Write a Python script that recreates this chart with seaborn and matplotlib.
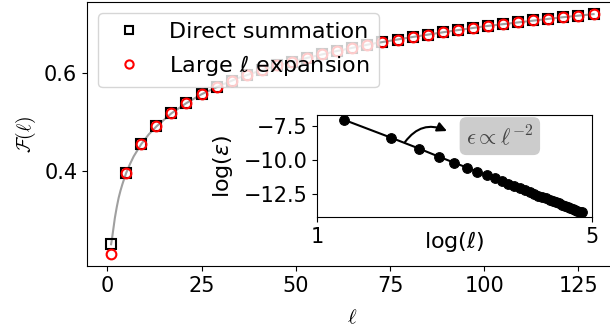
import matplotlib
matplotlib.use('Agg')
from matplotlib import pyplot as plt
import seaborn as sns
import numpy as np

# main panel: F(l) at l = 1, 5, ..., 129
ell = [1, 5, 9, 13, 17, 21, 25, 29, 33, 37, 41, 45, 49, 53, 57, 61, 65,
       69, 73, 77, 81, 85, 89, 93, 97, 101, 105, 109, 113, 117, 121, 125, 129]
F_direct = [0.250, 0.396, 0.455, 0.491, 0.518, 0.539, 0.557, 0.572, 0.585,
            0.596, 0.606, 0.616, 0.624, 0.632, 0.639, 0.646, 0.652, 0.658,
            0.664, 0.669, 0.674, 0.679, 0.684, 0.688, 0.692, 0.697, 0.700,
            0.704, 0.708, 0.711, 0.715, 0.718, 0.721]
F_expansion = [0.230, 0.395, 0.455, 0.491, 0.518, 0.539, 0.557, 0.572, 0.585,
               0.596, 0.606, 0.616, 0.624, 0.632, 0.639, 0.646, 0.652, 0.658,
               0.664, 0.669, 0.674, 0.679, 0.684, 0.688, 0.692, 0.697, 0.700,
               0.704, 0.708, 0.711, 0.715, 0.718, 0.721]

# smooth guide curve
ell_curve = [1.0, 1.25, 1.5, 2.0, 2.5, 3.0, 3.5, 4.0, 5.0, 6.0, 7.0, 9.0, 11.0,
             13.0, 17.0, 21.0, 25.0, 30.0, 35.0, 42.0, 50.0, 60.0, 70.0, 80.0,
             90.0, 100.0, 110.0, 120.0, 129.0]
F_curve = [0.250, 0.262, 0.276, 0.304, 0.326, 0.345, 0.360, 0.373, 0.396,
           0.414, 0.430, 0.455, 0.475, 0.491, 0.518, 0.539, 0.557, 0.575,
           0.591, 0.609, 0.626, 0.644, 0.660, 0.673, 0.685, 0.696, 0.705,
           0.714, 0.721]

# inset: log(eps) vs log(l), l = 4, 8, ..., 128
ell_inset = [4, 8, 12, 16, 20, 24, 28, 32, 36, 40, 44, 48, 52, 56, 60, 64,
             68, 72, 76, 80, 84, 88, 92, 96, 100, 104, 108, 112, 116, 120, 124, 128]
log_eps = [-7.06, -8.38, -9.17, -9.76, -10.20, -10.55, -10.85, -11.12,
           -11.35, -11.55, -11.74, -11.91, -12.06, -12.21, -12.34, -12.47,
           -12.59, -12.70, -12.80, -12.90, -13.00, -13.09, -13.17, -13.26,
           -13.34, -13.41, -13.49, -13.56, -13.63, -13.69, -13.76, -13.82]

fig = plt.figure(figsize=(6.1, 3.29), dpi=100)
ax = fig.add_axes([0.1426, 0.1915, 0.870, 0.802])

sns.lineplot(x=ell_curve, y=F_curve, color='gray', alpha=0.75, lw=1.5,
             ax=ax, zorder=1)
sns.lineplot(x=ell, y=F_direct, linestyle='none', marker='s', ms=7,
             markerfacecolor='none', markeredgecolor='black', mew=1.5,
             label='Direct summation', ax=ax, zorder=2)
sns.lineplot(x=ell, y=F_expansion, linestyle='none', marker='o', ms=7,
             markerfacecolor='none', markeredgecolor='red', mew=1.5,
             label=r'Large $\ell$ expansion', ax=ax, zorder=3)

ax.set_xticks([0, 25, 50, 75, 100, 125])
ax.set_yticks([0.4, 0.6])
ax.tick_params(labelsize=15)
ax.set_xlabel(r'$\ell$', fontsize=15, math_fontfamily='cm', labelpad=8)
ax.set_ylabel(r'$\mathcal{F}(\ell)$', fontsize=14, math_fontfamily='cm')
ax.legend(loc='upper left', fontsize=16, markerscale=0.85)

# inset
ins = fig.add_axes([0.5197, 0.3404, 0.4508, 0.310])
sns.lineplot(x=np.log(ell_inset), y=log_eps, color='black', lw=1.5,
             marker='o', ms=7, mec='black', ax=ins)
ins.set_xlim(1, 5)
ins.set_xticks([1, 5])
ins.set_yticks([-7.5, -10.0, -12.5])
ins.tick_params(labelsize=15)
ins.set_xlabel(r'log($\ell$)', fontsize=16, labelpad=-13)
ins.set_ylabel(r'log($\varepsilon$)', fontsize=16, labelpad=6)
ins.annotate('', xy=(2.89, -7.89), xytext=(2.28, -8.69),
             arrowprops=dict(arrowstyle='-|>', color='black', lw=1.5,
                             connectionstyle='arc3,rad=-0.4',
                             shrinkA=0, shrinkB=0, mutation_scale=14))
ins.text(3.66, -8.26, r'$\epsilon \propto \ell^{-2}$', fontsize=16,
         math_fontfamily='cm', color='#444444', ha='center', va='center',
         bbox=dict(boxstyle='round,pad=0.3', facecolor='gray', alpha=0.4,
                   edgecolor='none'))

fig.savefig('out.png', dpi=100)
